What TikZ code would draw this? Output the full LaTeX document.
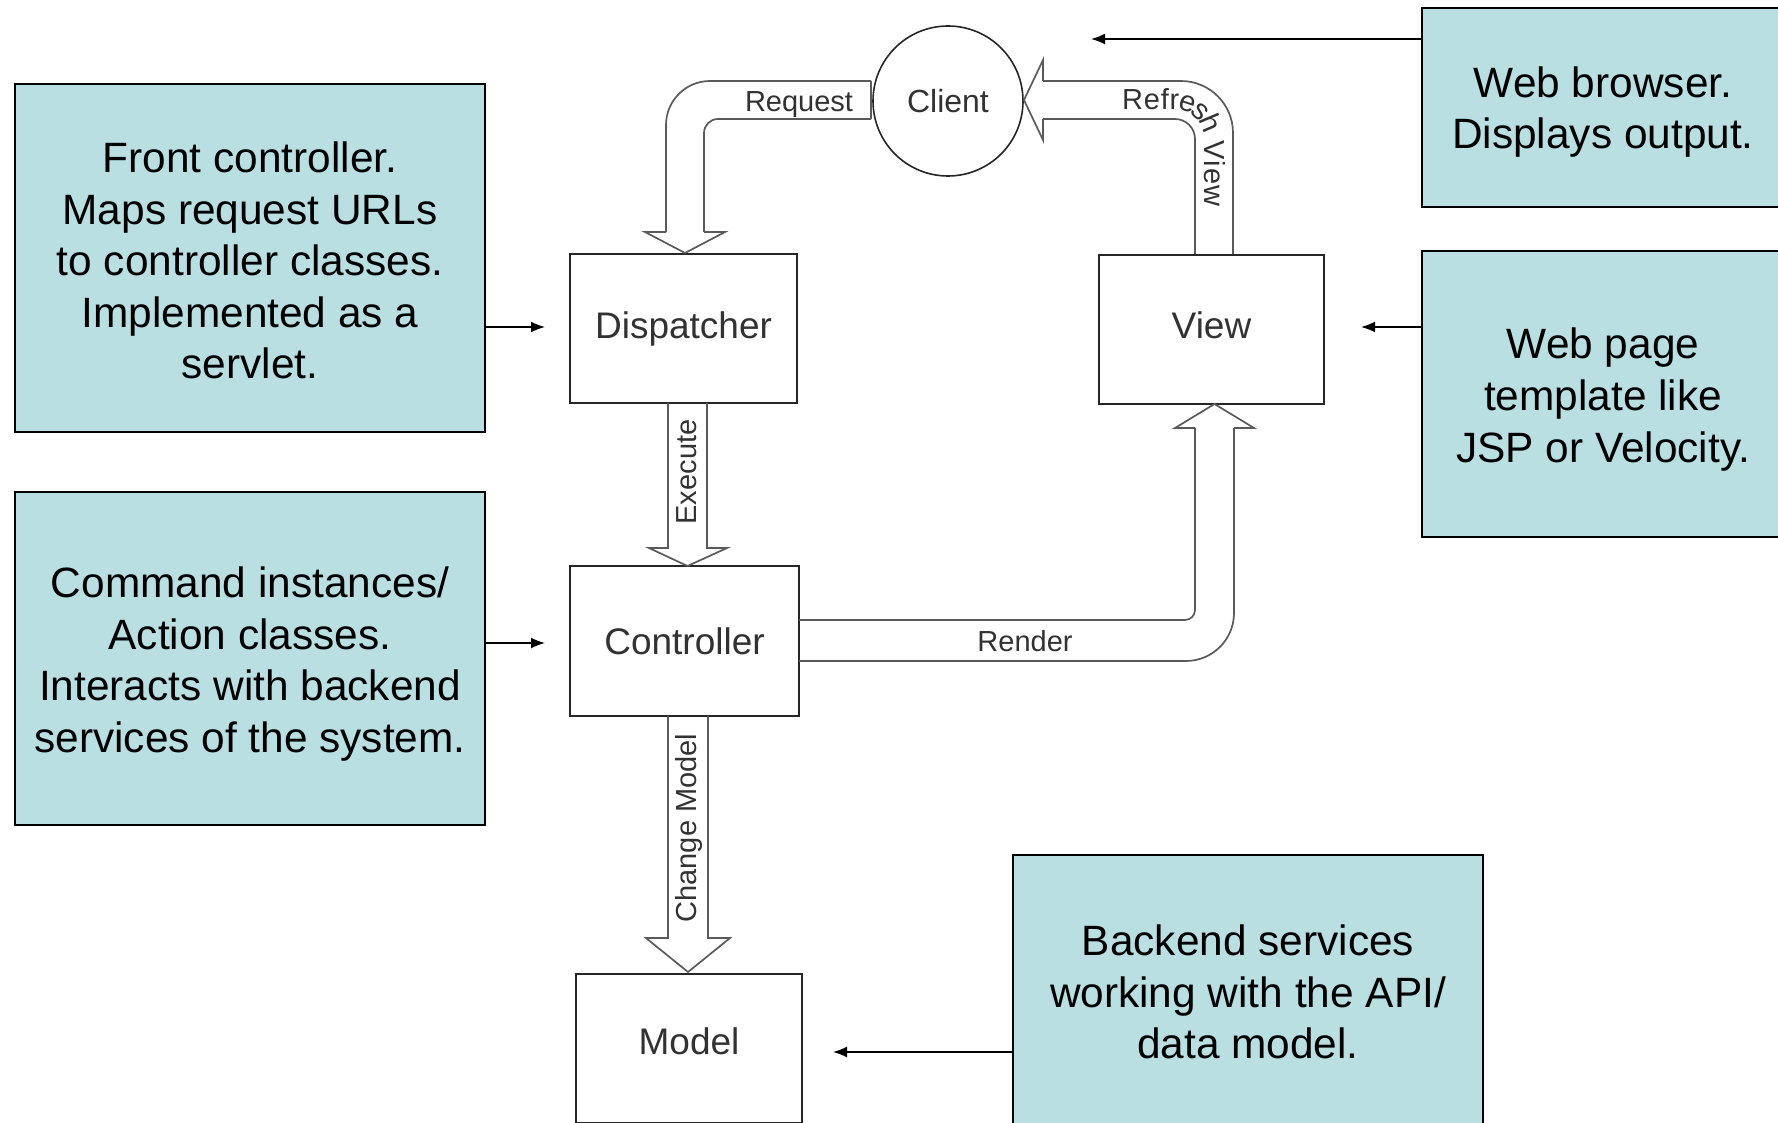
\documentclass[tikz,border=0pt]{standalone}
\usepackage{fontspec}
\setmainfont{Liberation Sans}
\usetikzlibrary{arrows.meta,decorations.text}
\definecolor{callfill}{RGB}{185,223,227}
\definecolor{bandline}{RGB}{90,90,90}
\definecolor{labtext}{RGB}{50,50,50}
\begin{document}
\begin{tikzpicture}[x=0.5pt,y=-0.5pt,
  callbox/.style={draw=black, line width=1pt, fill=callfill, inner sep=0pt},
  calltext/.style={align=center, font=\fontsize{21.2}{25.8}\selectfont, inner sep=0pt},
  comp/.style={draw=black!85, line width=1pt, inner sep=0pt,
    font=\fontsize{18.5}{20}\selectfont, text=labtext},
  band/.style={draw=bandline, line width=0.85pt, line join=miter},
  bandlab/.style={font=\fontsize{14.5}{15}\selectfont, text=labtext, inner sep=0pt},
  conn/.style={draw=black, line width=0.8pt, -{Latex[length=7pt,width=5.5pt]}},
]
\useasboundingbox (0,0) rectangle (1778,1123);
\clip (0,0) rectangle (1778,1123);

% callouts
\node[callbox, minimum width=235pt, minimum height=174pt] (fcbox) at (250,258) {};
\node[calltext] (fc) at (250,260.5)
  {Front controller.\\Maps request URLs\\to controller classes.\\Implemented as a\\servlet.};
\node[callbox, minimum width=235pt, minimum height=166.5pt] (cibox) at (250,658.5) {};
\node[calltext] (ci) at (250,664)
  {Command instances/\\Action classes.\\Interacts with backend\\services of the system.};
\node[callbox, minimum width=181pt, minimum height=99.5pt] (wbbox) at (1603,107.5) {};
\node[calltext] (wb) at (1603,112)
  {Web browser.\\Displays output.};
\node[callbox, minimum width=181pt, minimum height=143pt] (wpbox) at (1603,394) {};
\node[calltext] (wp) at (1603,399.5)
  {Web page\\template like\\JSP or Velocity.};
\node[callbox, minimum width=235pt, minimum height=137pt] (bebox) at (1248,992) {};
\node[calltext] (be) at (1248,992)
  {Backend services\\working with the API/\\data model.};

% components
\node[comp, minimum width=113.5pt, minimum height=74.5pt] (disp) at (683.5,328.5) {Dispatcher};
\node[comp, minimum width=112.5pt, text height=41.5pt, text depth=33pt, anchor=north] (view) at (1211.5,254) {View};
\node[comp, minimum width=114.5pt, minimum height=75pt] (ctrl) at (684.5,641) {Controller};
\node[comp, minimum width=113pt, text height=40pt, text depth=34.5pt, anchor=north] (model) at (689,973) {Model};
\node[draw=black!85, line width=0.8pt, circle, minimum size=75pt, inner sep=0pt,
  font=\fontsize{16}{17}\selectfont, text=labtext] (client) at (948,101) {Client};

% Request block arrow
\draw[band, rounded corners=22pt] (871,81) -- (666,81) -- (666,232);
\draw[band, rounded corners=7pt] (704,232) -- (704,119) -- (871,119);
\draw[band] (871,81) -- (871,119);
\draw[band] (666,232) -- (645,232) -- (685,253) -- (725,232) -- (704,232);
\node[bandlab] (lreq) at (799,105) {Request};

% Refresh View block arrow
\draw[band, rounded corners=26pt] (1043,81) -- (1233,81) -- (1233,254);
\draw[band, rounded corners=10pt] (1043,119) -- (1195,119) -- (1195,254);
\draw[band] (1043,81) -- (1043,60) -- (1024,100) -- (1043,140) -- (1043,119);
\path[decorate, decoration={text along path, text align={fit to path},
  text={|\fontsize{14.5}{15}\selectfont\color{labtext}|Refresh View}, raise=-5pt}]
  (1122,100) [rounded corners=19pt] -- (1214,100) -- (1214,206);

% Execute block arrow
\draw[band] (668,403) -- (668,548) -- (649,548) -- (687.5,566) -- (727,548) -- (707,548) -- (707,403);
\node[bandlab, rotate=90] (lexe) at (687,472) {Execute};

% Change Model block arrow
\draw[band] (668,716) -- (668,938) -- (646,938) -- (688,972) -- (730,938) -- (708,938) -- (708,716);
\node[bandlab, rotate=90] (lchg) at (689,828) {Change Model};

% Render block arrow
\draw[band, rounded corners=5pt] (799,620) -- (1195,620) -- (1195,428);
\draw[band, rounded corners=24pt] (799,661) -- (1234,661) -- (1234,428);
\draw[band] (1195,428) -- (1175,428) -- (1214.5,404) -- (1254,428) -- (1234,428);
\node[bandlab] (lren) at (1025,641) {Render};

% connectors
\coordinate (tWB) at (1091,39);
\draw[conn] (wbbox.west |- tWB) -- (tWB);
\coordinate (tD) at (545,327);
\draw[conn] (fcbox.east |- tD) -- (tD);
\coordinate (tC) at (545,643);
\draw[conn] (cibox.east |- tC) -- (tC);
\coordinate (tV) at (1361,327);
\draw[conn] (wpbox.west |- tV) -- (tV);
\coordinate (tM) at (833,1052);
\draw[conn] (bebox.west |- tM) -- (tM);
\end{tikzpicture}
\end{document}
